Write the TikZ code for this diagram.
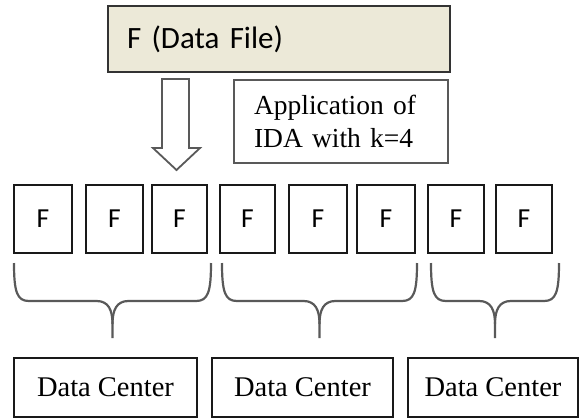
\documentclass[tikz,border=0pt]{standalone}
\usepackage{fontspec}
\setmainfont{Liberation Serif}
\newfontfamily\calib{Carlito}
\begin{document}
\begin{tikzpicture}[x=1pt,y=-1pt,
  topbox/.style={draw=black!80,line width=2pt,fill=topfill,rectangle,anchor=north west,
     minimum height=66pt,text width=304pt,inner xsep=19pt,align=left,
     font=\calib\fontsize{31}{36}\selectfont},
  appbox/.style={draw=black!65,line width=2pt,fill=white,rectangle,anchor=north west,
     minimum height=83pt,text width=174pt,inner xsep=20pt,inner ysep=0pt,align=left,
     font=\fontsize{27.5}{33}\selectfont},
  fbox/.style={draw=black!90,line width=1.6pt,rectangle,minimum height=68pt,
     inner sep=0pt,font=\calib\fontsize{27.5}{30}\selectfont},
  dcbox/.style={draw=black!90,line width=1.8pt,rectangle,minimum height=59pt,
     inner sep=0pt,font=\fontsize{28.5}{32}\selectfont},
  bracestyle/.style={draw=black!65,line width=2.2pt},
  arrowstyle/.style={draw=black!65,line width=1.8pt,fill=white,line join=miter}]
\definecolor{topfill}{HTML}{ECE9D8}
\useasboundingbox (0,0) rectangle (579,418);

\node[topbox] (file) at (107,5) {F (Data File)};
\node[appbox] (ida) at (233,79) {Application of\\IDA with k=4};

% hollow block arrow
\draw[arrowstyle] (162,79) -- (189,79) -- (189,148) -- (200,148) -- (176.5,170)
   -- (153,148) -- (162,148) -- cycle;

% fragment boxes
\node[fbox,minimum width=58pt] (f1) at (43,219) {F};
\node[fbox,minimum width=57pt] (f2) at (114.5,219) {F};
\node[fbox,minimum width=55pt] (f3) at (179.5,219) {F};
\node[fbox,minimum width=55pt] (f4) at (247.5,219) {F};
\node[fbox,minimum width=58pt] (f5) at (318,219) {F};
\node[fbox,minimum width=58pt] (f6) at (386,219) {F};
\node[fbox,minimum width=56pt] (f7) at (456,219) {F};
\node[fbox,minimum width=56pt] (f8) at (524,219) {F};

% braces
\newcommand\mybrace[3]{%
  \draw[bracestyle] (#1,263) .. controls (#1,292) and (#1+3,301) .. (#1+15,301)
    -- (#2-16,301) .. controls (#2-4,301) and (#2,310) .. (#2,324) -- (#2,338);
  \draw[bracestyle] (#3,263) .. controls (#3,292) and (#3-3,301) .. (#3-15,301)
    -- (#2+16,301) .. controls (#2+4,301) and (#2,310) .. (#2,324);}
\mybrace{14}{112.5}{211}
\mybrace{222}{319.5}{417}
\mybrace{431}{495}{559}

% data centers
\node[dcbox,minimum width=183pt] (dc1) at (105.5,387.5) {Data Center};
\node[dcbox,minimum width=181pt] (dc2) at (302.5,387.5) {Data Center};
\node[dcbox,minimum width=170pt] (dc3) at (493,387.5) {Data Center};
\end{tikzpicture}
\end{document}
